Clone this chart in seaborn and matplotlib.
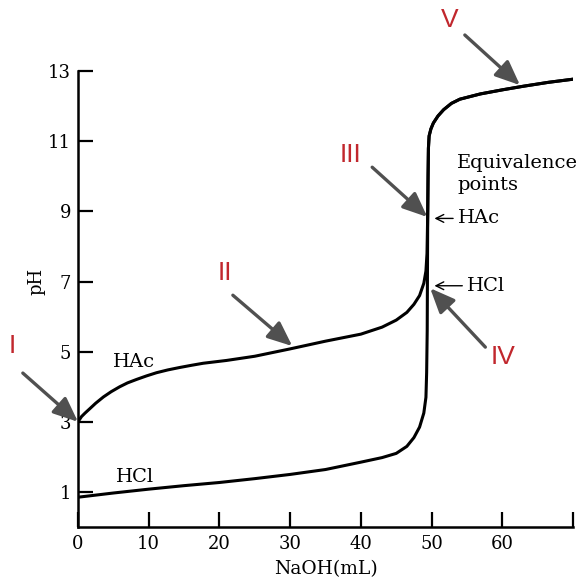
import matplotlib
matplotlib.use("Agg")
from matplotlib import pyplot as plt
import pandas as pd
import seaborn as sns

# Titration curves: NaOH added (mL) vs pH
hac_ml = [0, 0.5, 1, 1.7, 2.5, 3.6, 4.7, 5.9, 7, 8.3, 9.7, 11.1, 12.7, 14.4,
          16, 17.7, 21, 25, 30, 35, 40, 43, 45, 46.5, 47.5, 48.3, 48.9, 49.2,
          49.35, 49.45, 49.5, 49.55, 49.65, 49.9, 50.25, 50.9, 51.7, 52.8,
          54, 56.9, 60.1, 63, 66.5, 70]
hac_ph = [3.0, 3.15, 3.25, 3.38, 3.53, 3.71, 3.86, 4.0, 4.11, 4.21, 4.31,
          4.4, 4.48, 4.55, 4.61, 4.67, 4.75, 4.87, 5.08, 5.3, 5.5, 5.7, 5.9,
          6.12, 6.35, 6.6, 6.95, 7.3, 7.8, 8.9, 10.0, 10.8, 11.15, 11.35,
          11.52, 11.72, 11.9, 12.08, 12.2, 12.35, 12.47, 12.57, 12.68, 12.77]

hcl_ml = [0, 5, 10, 15, 20, 25, 30, 35, 40, 43, 45, 46.5, 47.5, 48.3, 48.9,
          49.2, 49.3, 49.38, 49.45, 49.5, 49.55, 49.65, 49.9, 50.25, 50.9,
          51.7, 52.8, 54, 56.9, 60.1, 63, 66.5, 70]
hcl_ph = [0.85, 0.97, 1.08, 1.18, 1.27, 1.38, 1.5, 1.64, 1.85, 1.98, 2.1,
          2.3, 2.55, 2.85, 3.25, 3.7, 4.4, 5.6, 8.9, 10.0, 10.8, 11.15, 11.35,
          11.52, 11.72, 11.9, 12.08, 12.2, 12.35, 12.47, 12.57, 12.68, 12.77]

x_ticks = [0, 10, 20, 30, 40, 50, 60, 70]
x_tick_labels = ["0", "10", "20", "30", "40", "50", "60", ""]
y_ticks = [1, 3, 5, 7, 9, 11, 13]

curves = pd.concat([
    pd.DataFrame({"NaOH": hac_ml, "pH": hac_ph, "acid": "HAc"}),
    pd.DataFrame({"NaOH": hcl_ml, "pH": hcl_ph, "acid": "HCl"}),
])

sns.set_style("ticks")
plt.rcParams["font.family"] = ["DejaVu Serif", "DejaVu Sans"]
plt.rcParams["text.color"] = "black"
plt.rcParams["axes.labelcolor"] = "black"

fig = plt.figure(figsize=(5.79, 5.83), dpi=100)
ax = fig.add_axes([0.1347, 0.096, 0.855, 0.782])

sns.lineplot(data=curves, x="NaOH", y="pH", hue="acid", units="acid",
             estimator=None, sort=False, palette=["black", "black"],
             linewidth=2.2, legend=False, ax=ax)

ax.set_xlim(0, 70)
ax.set_ylim(0, 13)
ax.set_xticks(x_ticks)
ax.set_xticklabels(x_tick_labels)
ax.set_yticks(y_ticks)
ax.tick_params(direction="in", length=11, width=1.6, labelsize=13,
               colors="black")
ax.tick_params(axis="x", pad=6)
ax.tick_params(axis="y", pad=5)
for side in ["top", "right"]:
    ax.spines[side].set_visible(False)
for side in ["left", "bottom"]:
    ax.spines[side].set_linewidth(1.8)
    ax.spines[side].set_color("black")
ax.set_xlabel("NaOH(mL)", fontsize=13.5, labelpad=5)
ax.set_ylabel("pH", fontsize=13, va="center")
ax.yaxis.set_label_coords(-0.083, 0.538)

# curve labels
ax.text(7.9, 4.7, "HAc", fontsize=14, ha="center", va="center")
ax.text(8.1, 1.43, "HCl", fontsize=14, ha="center", va="center")
ax.text(53.6, 10.06, "Equivalence\npoints", fontsize=14, ha="left",
        va="center", linespacing=1.25)
thin = dict(arrowstyle="->", color="black", lw=1.0, shrinkA=1, shrinkB=0)
ax.annotate("HAc", xy=(50.4, 8.8), xytext=(53.7, 8.8), fontsize=14,
            ha="left", va="center", arrowprops=thin, annotation_clip=False)
ax.annotate("HCl", xy=(50.4, 6.88), xytext=(55.0, 6.88), fontsize=14,
            ha="left", va="center", arrowprops=thin, annotation_clip=False)

# roman numeral markers with grey arrows
red = "#c1272d"
grey = dict(arrowstyle="-|>,head_length=0.75,head_width=0.32",
            color="#505050", lw=2.4, mutation_scale=20, shrinkA=0, shrinkB=0)
marks = [
    ("I", (-9.3, 5.15), (-7.8, 4.39), (0.0, 3.0)),
    ("II", (20.8, 7.24), (21.9, 6.61), (30.3, 5.16)),
    ("III", (38.5, 10.6), (41.6, 10.26), (49.4, 8.84)),
    ("IV", (60.1, 4.85), (57.6, 5.13), (49.8, 6.81)),
    ("V", (52.6, 14.45), (54.7, 14.03), (62.5, 12.6)),
]
for label, pos, tail, tip in marks:
    ax.annotate("", xy=tip, xytext=tail, arrowprops=grey,
                annotation_clip=False)
    ax.text(pos[0], pos[1], label, color=red, fontsize=19,
            family="Liberation Sans", ha="center", va="center",
            clip_on=False)

fig.savefig("out.png", dpi=100)
